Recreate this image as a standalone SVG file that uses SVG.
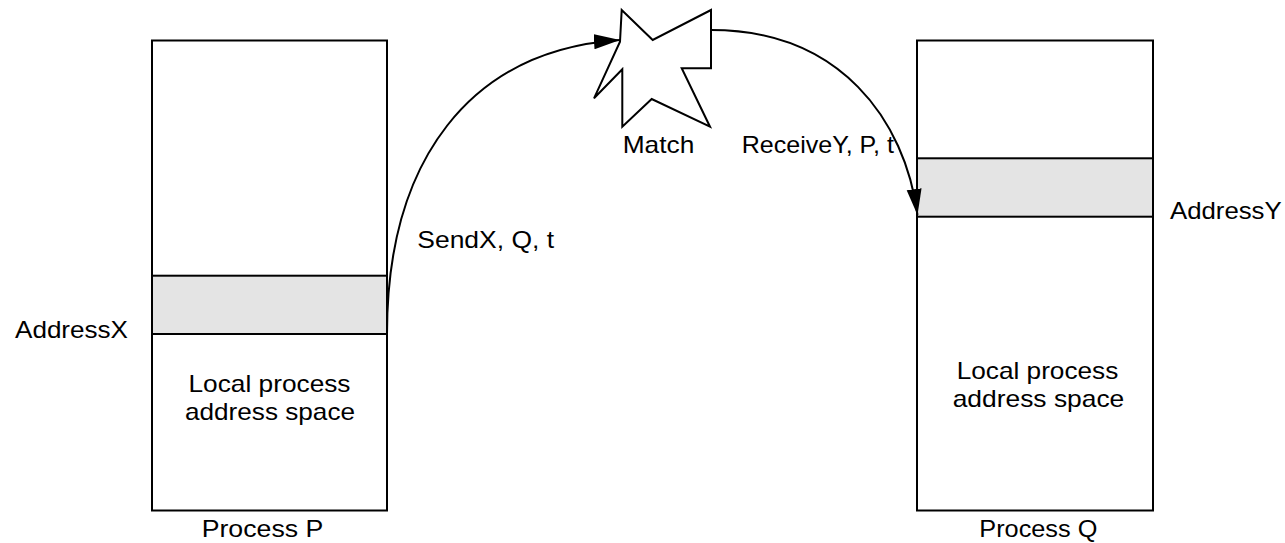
<svg xmlns="http://www.w3.org/2000/svg" width="1285" height="543" viewBox="0 0 1285 543">
<style>
.box{fill:#ffffff;stroke:#000000;stroke-width:2}
.band{fill:#e4e4e4;stroke:#000000;stroke-width:2}
.star{fill:#ffffff;stroke:#000000;stroke-width:2;stroke-linejoin:miter}
.conn{fill:none;stroke:#000000;stroke-width:2}
text{font-family:"Liberation Sans",Arial,Helvetica,sans-serif;font-size:24px;fill:#000000}
</style>
<defs>
<marker id="arrow" markerUnits="userSpaceOnUse" markerWidth="28" markerHeight="18" refX="26" refY="8" orient="auto">
<path d="M0,0.5 L26,8 L0,15.5 z" fill="#000000"/>
</marker>
</defs>
<rect width="1285" height="543" fill="#ffffff"/>
<g id="processP">
<rect class="box" x="152" y="40.5" width="235" height="470"/>
<rect class="band" x="152" y="275.7" width="235" height="58.3"/>
<text x="269.5" y="392" text-anchor="middle" textLength="162" lengthAdjust="spacingAndGlyphs">Local process</text>
<text x="270" y="419.5" text-anchor="middle" textLength="170" lengthAdjust="spacingAndGlyphs">address space</text>
<text x="262.5" y="536.5" text-anchor="middle" textLength="121.6" lengthAdjust="spacingAndGlyphs">Process P</text>
</g>
<g id="addressX">
<text x="15" y="338" textLength="113" lengthAdjust="spacingAndGlyphs">AddressX</text>
</g>
<g id="processQ">
<rect class="box" x="917" y="40.5" width="236" height="470"/>
<rect class="band" x="917" y="158.3" width="236" height="58.4"/>
<text x="1037.5" y="379.3" text-anchor="middle" textLength="161.6" lengthAdjust="spacingAndGlyphs">Local process</text>
<text x="1038.5" y="406.7" text-anchor="middle" textLength="171.6" lengthAdjust="spacingAndGlyphs">address space</text>
<text x="1038.3" y="536.5" text-anchor="middle" textLength="118" lengthAdjust="spacingAndGlyphs">Process Q</text>
</g>
<g id="addressY">
<text x="1170" y="219" textLength="111.7" lengthAdjust="spacingAndGlyphs">AddressY</text>
</g>
<g id="match">
<polygon class="star" points="621.7,10 652.7,40 711,10 711,68.3 681.7,68.3 710,126.7 651.7,99 622.3,126.7 622.3,69.3 594,98.3 620,41.7"/>
<text x="622.7" y="152.7" textLength="71.6" lengthAdjust="spacingAndGlyphs">Match</text>
</g>
<g id="connectors">
<path class="conn" d="M387,334 C387,160 470,50 620,40" marker-end="url(#arrow)"/>
<path class="conn" d="M711,30 C840,30 905,120 917.5,215" marker-end="url(#arrow)"/>
<text x="417.3" y="248" textLength="136.7" lengthAdjust="spacingAndGlyphs">SendX, Q, t</text>
<text x="741.7" y="152.7" textLength="152.3" lengthAdjust="spacingAndGlyphs">ReceiveY, P, t</text>
</g>
</svg>
